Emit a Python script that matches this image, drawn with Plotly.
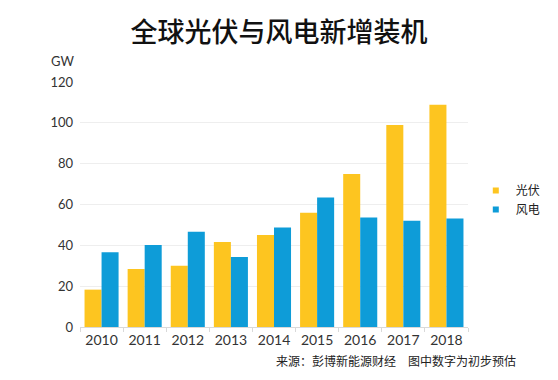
import plotly.graph_objects as go

years = ["2010", "2011", "2012", "2013", "2014", "2015", "2016", "2017", "2018"]
solar = [18.3, 28.4, 30.0, 41.6, 45.1, 56.0, 74.9, 98.9, 108.9]
wind = [36.6, 40.2, 46.7, 34.3, 48.7, 63.4, 53.6, 52.1, 53.2]
series_names = ["光伏", "风电"]
colors = ["#FDC520", "#0E9CD8"]
yticks = [0, 20, 40, 60, 80, 100, 120]

W, H = 558, 380
L, R, T, B = 80, 80, 82, 53

fig = go.Figure()
for name, vals, c in zip(series_names, [solar, wind], colors):
    fig.add_trace(go.Bar(x=years, y=vals, name=name, marker=dict(color=c, line=dict(width=0)),
                         showlegend=False))
for name, c in zip(series_names, colors):
    fig.add_trace(go.Scatter(x=[None], y=[None], mode="markers", name=name,
                             marker=dict(symbol="square", size=6, color=c)))

font = "Lato, 'Noto Sans CJK SC', sans-serif"
fig.update_layout(
    width=W, height=H,
    margin=dict(l=L, r=R, t=T, b=B),
    paper_bgcolor="white", plot_bgcolor="white",
    barmode="group", bargap=0.21, bargroupgap=0,
    font=dict(family=font, color="#333333"),
    title=dict(text="全球光伏与风电新增装机", x=0.5, xanchor="center", y=1 - 33 / H, yanchor="middle",
               font=dict(family="'Noto Sans CJK SC'", size=27, color="#111111", weight=500)),
    xaxis=dict(showgrid=False, showline=True, linecolor="#d9d9d9", linewidth=1,
               ticks="outside", tickson="boundaries", ticklen=4, tickcolor="#d9d9d9",
               tickfont=dict(size=14, color="#333333"), fixedrange=True),
    yaxis=dict(range=[0, 120], tickvals=yticks, showgrid=True, gridcolor="#eeeeee", gridwidth=1,
               zeroline=False, showline=False, ticks="", ticklabelstandoff=6,
               tickfont=dict(size=13, color="#333333")),
    legend=dict(x=(486 - L) / (W - L - R), xanchor="left", y=(H - B - 200) / (H - T - B), yanchor="middle",
                font=dict(family="'Noto Sans CJK SC'", size=12, color="#222222"),
                tracegroupgap=0, itemwidth=30, bgcolor="rgba(0,0,0,0)"),
    annotations=[
        dict(text="GW", xref="paper", yref="paper", x=(62 - L) / (W - L - R), y=(H - B - 61) / (H - T - B),
             xanchor="center", yanchor="middle", showarrow=False, font=dict(size=13, color="#333333")),
        dict(text="来源：彭博新能源财经　图中数字为初步预估", xref="paper", yref="paper",
             x=(404 - L) / (W - L - R), y=(H - B - 360) / (H - T - B), xanchor="center", yanchor="middle",
             showarrow=False, font=dict(family="'Noto Sans CJK SC'", size=12, color="#222222")),
    ],
)
fig.write_html("out.html", config={"displayModeBar": False},
               post_script="document.body.style.margin='0';document.body.style.overflow='hidden';")
